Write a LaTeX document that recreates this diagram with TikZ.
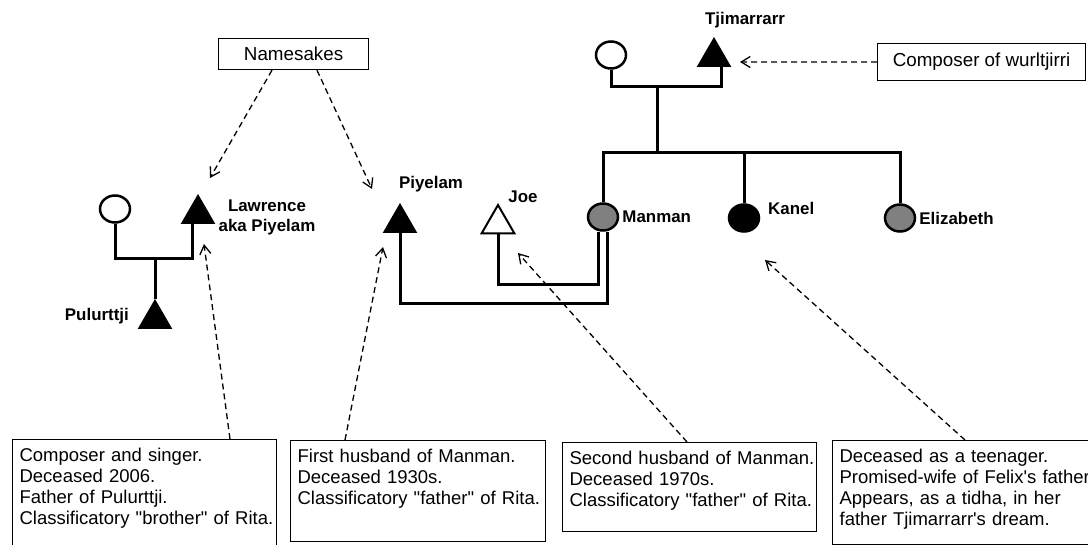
\documentclass[tikz,border=0pt]{standalone}
\usepackage{fontspec}
\setmainfont{Liberation Sans}
\usetikzlibrary{positioning, shapes.geometric, arrows.meta}
\tikzset{
    female/.style = {ellipse, draw, line width=2.5pt, fill=white, minimum width=30pt, minimum height=27pt, inner sep=0pt},
    male/.style = {regular polygon, regular polygon sides=3, draw, line width=1pt, fill=black, minimum size=38pt, inner sep=0pt},
    kin/.style = {draw, line width=3pt},
    pointer/.style = {draw, line width=1.3pt, dash pattern=on 6pt off 4pt, -{Straight Barb[length=9pt, width=11pt]}},
    tag/.style = {font=\bfseries\fontsize{16.9}{20}\selectfont, inner sep=0pt},
    caption/.style = {rectangle, draw, line width=1.2pt, anchor=north west, inner sep=0pt, font=\fontsize{18.8}{21}\selectfont},
    note/.style = {rectangle, draw, line width=1.2pt, anchor=north west, align=left, inner xsep=7pt, inner ysep=4pt, text height=17.5pt, font=\fontsize{18.5}{21.3}\selectfont}
}
\begin{document}
\begin{tikzpicture}[x=1pt, y=-1pt]
        \useasboundingbox (0,0) rectangle (1088,545);
        \clip (0,0) rectangle (1088,545);

        % Lawrence and Pulurttji
        \node [female] (lcirc) at (115,209) {};
        \node [male] (lawr) at (198,214) {};
        \node [male] (pulu) at (155,319) {};
        \node [tag, align=center] (lawrlbl) at (267,217) {Lawrence\\aka Piyelam};
        \node [tag, anchor=east] (pululbl) at (129,316) {Pulurttji};
        \coordinate (lmid) at (155,259);
        \path [kin] (lcirc.south) |- (lmid) -| ([xshift=-6pt]lawr.south);
        \path [kin] (lmid) -- (pulu.north);

        % Tjimarrarr and his children
        \node [female] (tcirc) at (611,55) {};
        \node [male] (tjim) at (714,57) {};
        \node [tag] (tjimlbl) at (745,20) {Tjimarrarr};
        \coordinate (tmid) at (657,87);
        \coordinate (sibs) at (657,153);
        \path [kin] (tcirc.south) |- (tmid) -| ([xshift=7pt]tjim.south);
        \path [kin] (tmid) -- (sibs);
        \node [female, fill=gray] (manman) at (603,217) {};
        \node [female, fill=black] (kanel) at (744,218) {};
        \node [female, fill=gray] (eliz) at (900,218) {};
        \node [tag, right=3pt of manman] (manmanlbl) {Manman};
        \node [tag, anchor=west] (kanellbl) at (768,208) {Kanel};
        \node [tag, right=3pt of eliz] (elizlbl) {Elizabeth};
        \path [kin] (manman.north) |- (sibs) -| (eliz.north);
        \path [kin] (kanel.north) -- (kanel.north |- sibs);

        % Manman's husbands
        \node [male] (piy) at (400,223) {};
        \node [male, fill=white, line width=2pt] (joe) at (498,224) {};
        \node [tag] (piylbl) at (431,184) {Piyelam};
        \node [tag] (joelbl) at (523,197) {Joe};
        \path [kin] (joe.south) -- ++(0,50) -| ([xshift=-5pt]manman.south);
        \path [kin] (piy.south) -- ++(0,70) -| ([xshift=4pt]manman.south);

        % Notes
        \node [caption, minimum width=150pt, minimum height=31pt] (names) at (218,38) {Namesakes};
        \node [caption, minimum width=208pt, minimum height=37pt] (wurl) at (877,43) {Composer of wurltjirri};
        \node [note, text width=250pt, text depth=95.5pt] (lawrnote) at (12,439)
            {Composer and singer.\\Deceased 2006.\\Father of Pulurttji.\\\mbox{Classificatory \textquotedbl brother\textquotedbl\ of Rita.}};
        \node [note, text width=241pt, text depth=75.5pt] (piynote) at (290,440)
            {First husband of Manman.\\Deceased 1930s.\\\mbox{Classificatory \textquotedbl father\textquotedbl\ of Rita.}};
        \node [note, text width=240pt, text depth=63.5pt] (joenote) at (562,442)
            {\mbox{Second husband of Manman.}\\Deceased 1970s.\\\mbox{Classificatory \textquotedbl father\textquotedbl\ of Rita.}};
        \node [note, text width=254pt, text depth=78.5pt] (kanelnote) at (832,440)
            {Deceased as a teenager.\\\mbox{Promised-wife of Felix\textquotesingle s father.}\\Appears, as a tidha, in her\\father Tjimarrarr\textquotesingle s dream.};

        % Pointers
        \coordinate (tipnl) at (210,178);
        \coordinate (tipnr) at (372,189);
        \coordinate (tiptjim) at (740,62);
        \coordinate (tiplawr) at (204,244);
        \coordinate (tippiy) at (383,247);
        \coordinate (tipjoe) at (518,253);
        \coordinate (tipkanel) at (765,260);
        \path [pointer] ([xshift=54pt]names.south west) -- (tipnl);
        \path [pointer] ([xshift=99pt]names.south west) -- (tipnr);
        \path [pointer] (wurl.west) -- (tiptjim);
        \path [pointer] ([xshift=218pt]lawrnote.north west) -- (tiplawr);
        \path [pointer] ([xshift=55pt]piynote.north west) -- (tippiy);
        \path [pointer] ([xshift=125pt]joenote.north west) -- (tipjoe);
        \path [pointer] ([xshift=133pt]kanelnote.north west) -- (tipkanel);
    \end{tikzpicture}
\end{document}
